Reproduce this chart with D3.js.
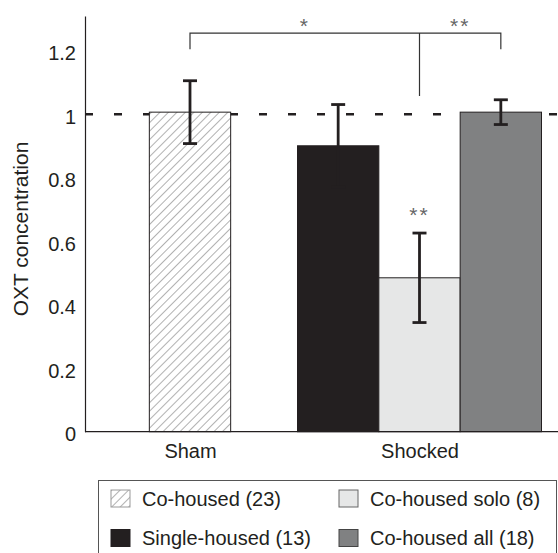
<!DOCTYPE html>
<html>
<head>
<meta charset="UTF-8">
<style>
  body { margin: 0; background: #fff; }
  svg { display: block; }
  text { font-family: "Liberation Sans", Arial, Helvetica, sans-serif; fill: #231f20; }
</style>
</head>
<body>
<svg></svg>
<script src="https://d3js.org/d3.v7.min.js"></script>
<script>
const width = 558, height = 553;

// data
const groups = ["Sham", "Shocked"];
const series = ["Co-housed (23)", "Single-housed (13)", "Co-housed solo (8)", "Co-housed all (18)"];
const seriesGroup = ["Sham", "Shocked", "Shocked", "Shocked"];
const means = [1.007, 0.901, 0.485, 1.007];
const sems = [0.099, 0.13, 0.141, 0.039];
const yTicks = [0, 0.2, 0.4, 0.6, 0.8, 1, 1.2];
const colors = ["url(#hatch)", "#231f20", "#e6e7e7", "#808182"];

const svg = d3.select("svg").attr("width", width).attr("height", height);

// hatch for the sham bar
const pat = svg.append("defs").append("pattern")
  .attr("id", "hatch")
  .attr("patternUnits", "userSpaceOnUse")
  .attr("width", 6).attr("height", 6)
  .attr("patternTransform", "rotate(45)");
pat.append("rect").attr("width", 6).attr("height", 6).attr("fill", "#fff");
pat.append("line").attr("x1", 0).attr("y1", 0).attr("x2", 0).attr("y2", 6)
  .attr("stroke", "#8f8f8f").attr("stroke-width", 1.4);

let y = d3.scaleLinear().domain([0, 1.31]).range([431.7, 16]);
let x0 = d3.scalePoint().domain(groups).range([190, 419.5]);
let shockedSeries = series.filter((s, i) => seriesGroup[i] == "Shocked");
let xSub = d3.scaleBand().domain(shockedSeries).range([-122, 122]);
let bw = xSub.bandwidth();

const bars = series.map((s, i) => ({
  name: s,
  group: seriesGroup[i],
  mean: means[i],
  sem: sems[i],
  color: colors[i],
  cx: seriesGroup[i] == "Sham" ? x0("Sham") : x0("Shocked") + xSub(s) + bw / 2
}));

// reference line at 1
svg.append("line")
  .attr("x1", 85).attr("x2", width)
  .attr("y1", y(1)).attr("y2", y(1))
  .attr("stroke", "#231f20")
  .attr("stroke-width", 2.5)
  .attr("stroke-dasharray", "8,21");

// bars
svg.append("g").selectAll("rect")
  .data(bars)
  .enter()
  .append("rect")
  .attr("x", d => d.cx - bw / 2)
  .attr("width", bw)
  .attr("y", d => y(d.mean))
  .attr("height", d => y(0) - y(d.mean))
  .attr("fill", d => d.color)
  .attr("stroke", "#231f20")
  .attr("stroke-width", 1);

// error bars
let err = svg.append("g").selectAll("g")
  .data(bars)
  .enter()
  .append("g")
  .attr("stroke", "#231f20")
  .attr("stroke-width", 2.8);
err.append("line")
  .attr("x1", d => d.cx).attr("x2", d => d.cx)
  .attr("y1", d => y(d.mean + d.sem)).attr("y2", d => y(d.mean - d.sem));
err.append("line")
  .attr("x1", d => d.cx - 7).attr("x2", d => d.cx + 7)
  .attr("y1", d => y(d.mean + d.sem)).attr("y2", d => y(d.mean + d.sem));
err.append("line")
  .attr("x1", d => d.cx - 7).attr("x2", d => d.cx + 7)
  .attr("y1", d => y(d.mean - d.sem)).attr("y2", d => y(d.mean - d.sem));

// axes
let yAxis = svg.append("g")
  .attr("transform", "translate(85,0)")
  .call(d3.axisLeft(y).tickValues(yTicks).tickSize(0).tickSizeOuter(0).tickPadding(9).tickFormat(d => d));
yAxis.select(".domain").attr("stroke", "#231f20").attr("stroke-width", 1.2);
yAxis.selectAll("text").attr("font-size", 20).attr("dy", "0.45em").attr("fill", "#231f20");

svg.append("line")
  .attr("x1", 85).attr("x2", width)
  .attr("y1", y(0)).attr("y2", y(0))
  .attr("stroke", "#231f20").attr("stroke-width", 1.2);

let xAxis = svg.append("g")
  .attr("transform", "translate(0," + y(0) + ")")
  .call(d3.axisBottom(x0).tickSize(0).tickPadding(12));
xAxis.select(".domain").remove();
xAxis.selectAll("text").attr("font-size", 20).attr("fill", "#231f20");

svg.append("text")
  .attr("transform", "translate(28,229) rotate(-90)")
  .attr("text-anchor", "middle")
  .attr("font-size", 21)
  .text("OXT concentration");

// significance bracket
let b0 = bars[0].cx, b2 = bars[2].cx, b3 = bars[3].cx;
svg.append("path")
  .attr("fill", "none")
  .attr("stroke", "#333")
  .attr("stroke-width", 1.2)
  .attr("d", `M${b0},${y(1.205)}V${y(1.256)}H${b3}V${y(1.205)}M${b2},${y(1.256)}V${y(1.058)}`);

const stars = [
  { x: (b0 + b2) / 2, v: 1.256, t: "*" },
  { x: (b2 + b3) / 2, v: 1.256, t: "**" },
  { x: b2, v: 0.66, t: "**" }
];
svg.append("g").selectAll("text")
  .data(stars)
  .enter()
  .append("text")
  .attr("x", d => d.x)
  .attr("y", d => y(d.v))
  .attr("text-anchor", "middle")
  .attr("font-size", 21)
  .attr("letter-spacing", 2)
  .style("fill", "#666")
  .text(d => d.t);

// legend
let legend = svg.append("g");
legend.append("rect")
  .attr("x", 98.5).attr("y", 480.5)
  .attr("width", 458).attr("height", 90)
  .attr("fill", "none").attr("stroke", "#555").attr("stroke-width", 1);

const legPos = [[111, 498.5], [111, 538], [339, 498.5], [339, 538]];
const legStroke = ["#9a9a9a", "#231f20", "#666", "#444"];
let item = legend.selectAll("g.item")
  .data(bars)
  .enter()
  .append("g")
  .attr("class", "item")
  .attr("transform", (d, i) => `translate(${legPos[i][0]},${legPos[i][1]})`);
item.append("rect")
  .attr("x", 0).attr("y", -8.5)
  .attr("width", 19).attr("height", 17)
  .attr("fill", d => d.color)
  .attr("stroke", (d, i) => legStroke[i]);
item.append("text")
  .attr("x", 31)
  .attr("dy", "0.36em")
  .attr("font-size", 20)
  .text(d => d.name);
</script>
</body>
</html>
